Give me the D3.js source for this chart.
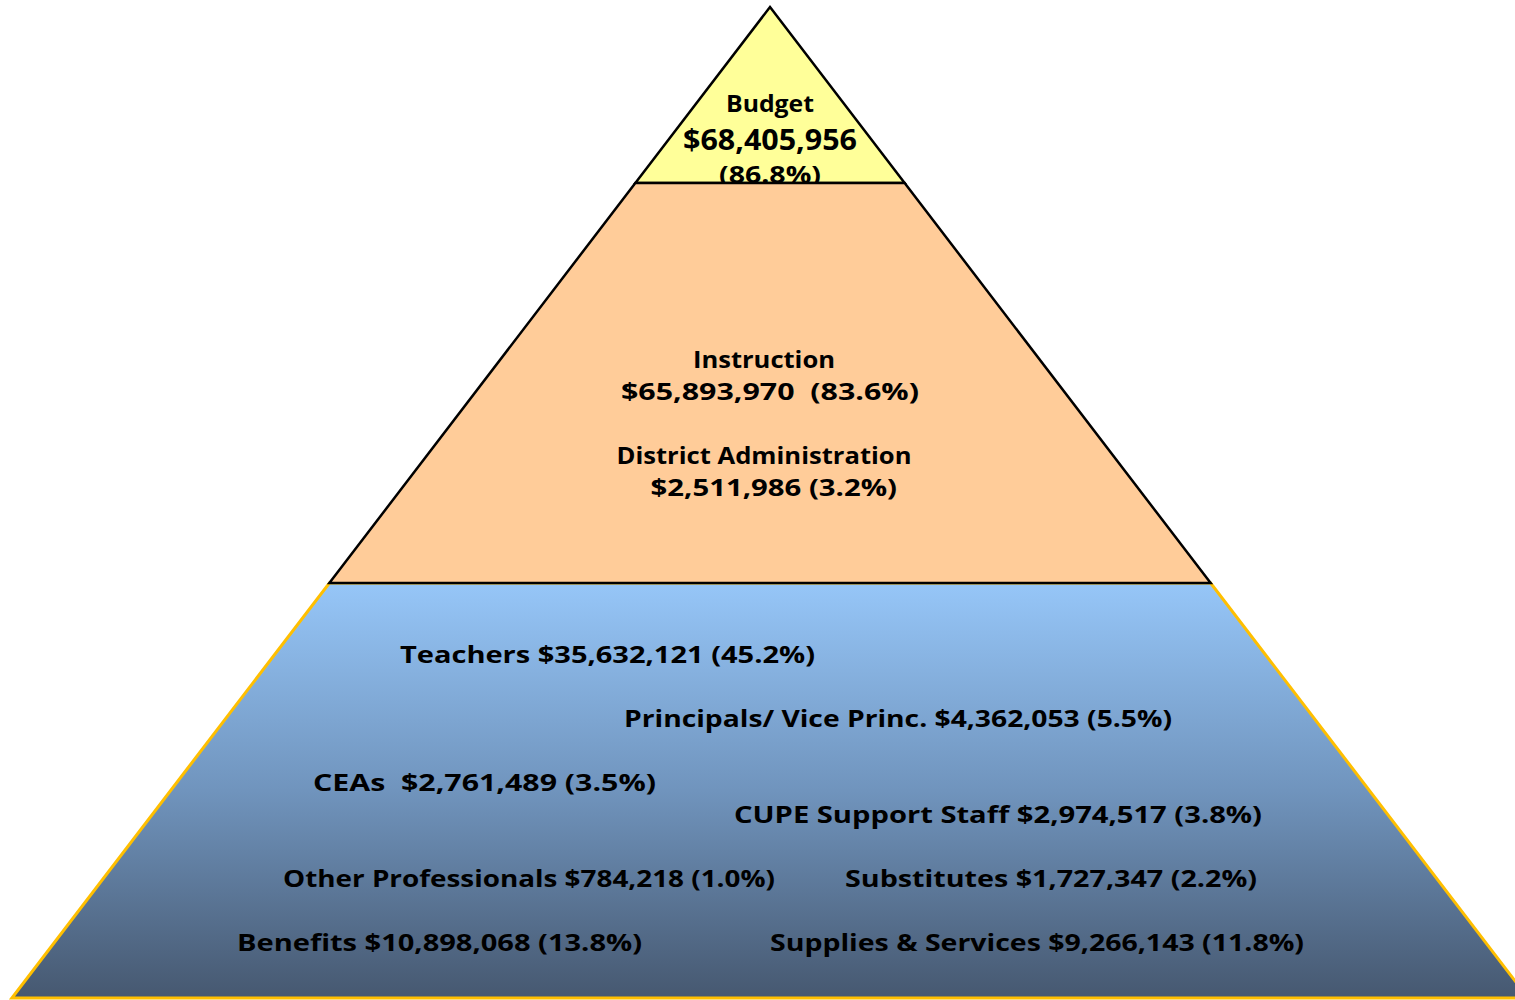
<!DOCTYPE html>
<html>
<head>
<meta charset="utf-8">
<script src="https://cdn.jsdelivr.net/npm/d3@7"></script>
<style>
  html, body { margin: 0; padding: 0; background: #fff; }
  svg text { font-family: "Comic Sans MS", "Open Sans", sans-serif; font-weight: bold; fill: #000; }
</style>
</head>
<body>
<svg id="chart" width="1515" height="1000"></svg>
<script>
'use strict';

// Budget pyramid data
var tierNames = ['Budget', 'Instruction & Administration', 'Expense Detail'];
var budgetLines = ['Budget', '$68,405,956', '(86.8%)'];
var adminLines = ['Instruction', '$65,893,970  (83.6%)', 'District Administration', ' $2,511,986 (3.2%)'];
var categories = ['Teachers', 'Principals/ Vice Princ.', 'CEAs ', 'CUPE Support Staff',
                  'Other Professionals', 'Substitutes', 'Benefits', 'Supplies & Services'];
var amounts = [35632121, 4362053, 2761489, 2974517, 784218, 1727347, 10898068, 9266143];
var percents = [45.2, 5.5, 3.5, 3.8, 1.0, 2.2, 13.8, 11.8];

// layout (kept apart from the data)
var apex = {x: 770, y: 7}, base = 998, slope = 0.765;
var tierBreaks = [0, 176, 576, 991];       // distance from apex of each tier edge
var tierFill = ['#ffff99', '#ffcc99', 'url(#blueGrad)'];
var tierStroke = ['#000', '#000', '#ffbf00'];

var budgetLayout = [{y: 112, size: 23, w: 88}, {y: 150, size: 28, w: 174}, {y: 183, size: 24, w: 102}];
var adminLayout = [{x: 764, y: 368, w: 142}, {x: 770, y: 400, w: 298}, {x: 764, y: 464, w: 295}, {x: 770, y: 496, w: 254}];
// left x, baseline, width
var catLayout = [[400, 663, 415], [624, 727, 548], [313, 791, 343], [734, 823, 528],
                 [283, 887, 492], [845, 887, 412], [237, 951, 405], [770, 951, 534]];

var svg = d3.select('#chart');

var grad = svg.append('defs').append('linearGradient')
    .attr('id', 'blueGrad').attr('x1', 0).attr('y1', 0).attr('x2', 0).attr('y2', 1);
grad.append('stop').attr('offset', '0%').attr('stop-color', '#96c6f8');
grad.append('stop').attr('offset', '50%').attr('stop-color', '#7094bd');
grad.append('stop').attr('offset', '100%').attr('stop-color', '#465870');

var y = d3.scaleLinear().domain([0, tierBreaks[3]]).range([apex.y, base]);
function halfWidth(d) { return d * slope; }

function tierPoly(i) {
  var d0 = tierBreaks[i], d1 = tierBreaks[i + 1];
  if (d0 === 0) {
    return [[apex.x, y(0)], [apex.x + halfWidth(d1), y(d1)], [apex.x - halfWidth(d1), y(d1)]];
  }
  return [[apex.x - halfWidth(d0), y(d0)], [apex.x + halfWidth(d0), y(d0)],
          [apex.x + halfWidth(d1), y(d1)], [apex.x - halfWidth(d1), y(d1)]];
}

var line = d3.line();

function drawTier(i, sw) {
  svg.append('path')
     .attr('class', 'tier')
     .attr('d', line(tierPoly(i)) + 'Z')
     .attr('fill', tierFill[i])
     .attr('stroke', tierStroke[i])
     .attr('stroke-width', sw)
     .attr('stroke-linejoin', 'miter')
     .append('title').text(tierNames[i]);
}

// bottom tier first, then the top one with its text, then the middle (it covers the top text a bit)
drawTier(2, 3);
drawTier(0, 2.5);

svg.selectAll('text.budget')
   .data(budgetLines).enter()
   .append('text')
   .attr('class', 'budget')
   .attr('x', apex.x)
   .attr('y', function(d, i) { return budgetLayout[i].y; })
   .attr('text-anchor', 'middle')
   .style('font-size', function(d, i) { return budgetLayout[i].size + 'px'; })
   .attr('textLength', function(d, i) { return budgetLayout[i].w; })
   .attr('lengthAdjust', 'spacingAndGlyphs')
   .text(function(d) { return d; });

drawTier(1, 2.5);

svg.selectAll('text.admin')
   .data(adminLines).enter()
   .append('text')
   .attr('class', 'admin')
   .attr('x', function(d, i) { return adminLayout[i].x; })
   .attr('y', function(d, i) { return adminLayout[i].y; })
   .attr('text-anchor', 'middle')
   .style('font-size', '24px')
   .style('white-space', 'pre')
   .attr('textLength', function(d, i) { return adminLayout[i].w; })
   .attr('lengthAdjust', 'spacingAndGlyphs')
   .text(function(d) { return d; });

var fmtMoney = d3.format('$,'), fmtPct = d3.format('.1f');

svg.selectAll('text.cat')
   .data(categories).enter()
   .append('text')
   .attr('class', 'cat')
   .attr('x', function(d, i) { return catLayout[i][0]; })
   .attr('y', function(d, i) { return catLayout[i][1]; })
   .style('font-size', '24px')
   .style('white-space', 'pre')
   .attr('textLength', function(d, i) { return catLayout[i][2]; })
   .attr('lengthAdjust', 'spacingAndGlyphs')
   .text(function(d, i) { return d + ' ' + fmtMoney(amounts[i]) + ' (' + fmtPct(percents[i]) + '%)'; });
</script>
</body>
</html>
